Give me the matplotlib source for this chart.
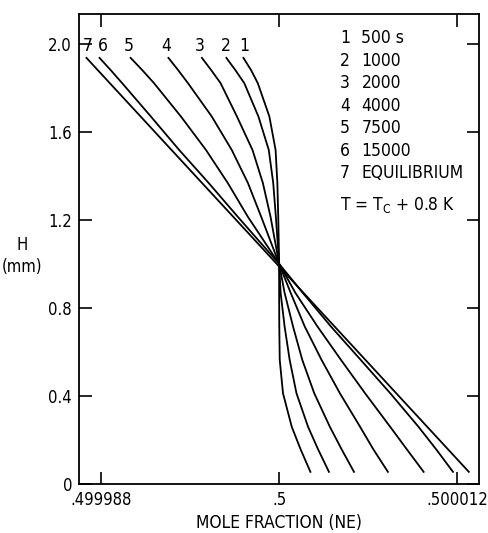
import numpy as np
import matplotlib
matplotlib.use("Agg")
import matplotlib.pyplot as plt

plt.rcParams['font.family'] = ['DejaVu Sans']
plt.rcParams['font.stretch'] = 'condensed'

h_levels = [1.936, 1.88, 1.821, 1.67, 1.518, 1.368, 1.214, 1.0,
            0.868, 0.715, 0.564, 0.412, 0.26, 0.157, 0.055]

# mole fraction minus 0.5, in units of 1e-6
curve1 = [-2.41, -1.89, -1.44, -0.66, -0.24, -0.12, -0.06, 0.0,
          0.0, 0.01, 0.04, 0.26, 0.85, 1.45, 2.11]
curve2 = [-3.56, -2.95, -2.35, -1.40, -0.70, -0.40, -0.22, 0.0,
          0.10, 0.37, 0.71, 1.17, 1.95, 2.63, 3.36]
curve3 = [-5.21, -4.58, -3.95, -2.85, -1.80, -1.10, -0.58, 0.0,
          0.37, 0.94, 1.56, 2.37, 3.42, 4.22, 5.05]
curve4 = [-7.47, -6.81, -6.15, -4.55, -3.20, -2.11, -1.21, 0.0,
          0.78, 1.73, 2.86, 4.10, 5.46, 6.36, 7.34]
curve5 = [-10.02, -9.23, -8.44, -6.63, -4.94, -3.47, -2.11, 0.0,
          1.10, 2.59, 4.17, 5.80, 7.49, 8.62, 9.75]
curve6 = [-12.12, -11.36, -10.59, -8.66, -6.75, -4.76, -2.79, 0.0,
          1.60, 3.50, 5.50, 7.50, 9.40, 10.60, 11.73]
# equilibrium profile is a straight line
h_equil = [1.936, 0.055]
curve7 = [-13.0, 12.8]

curve_nums = ['7', '6', '5', '4', '3', '2', '1']
num_x = [-12.9, -11.9, -10.14, -7.63, -5.39, -3.63, -2.34]
legend_nums = ['1', '2', '3', '4', '5', '6', '7']
legend_txt = ['500 s', '1000', '2000', '4000', '7500', '15000', 'EQUILIBRIUM']

fig = plt.figure(figsize=(4.88, 5.33), dpi=100)
ax = fig.add_axes([0.162, 0.092, 0.82, 0.882])

for c in [curve1, curve2, curve3, curve4, curve5, curve6]:
    ax.plot(0.5 + np.array(c) * 1e-6, h_levels, color='black', lw=1.3)
ax.plot(0.5 + np.array(curve7) * 1e-6, h_equil, color='black', lw=1.3)

ax.set_xlim(0.5 - 13.5e-6, 0.5 + 13.5e-6)
ax.set_ylim(0, 2.136)
ax.set_xticks([0.499988, 0.5, 0.500012])
ax.set_xticklabels(['.499988', '.5', '.500012'])
ax.set_yticks([0, 0.4, 0.8, 1.2, 1.6, 2.0])
ax.set_yticklabels(['0', '0.4', '0.8', '1.2', '1.6', '2.0'])
ax.tick_params(direction='in', length=9, width=1.2, top=True, right=True,
               labelsize=12, pad=5)
for s in ax.spines.values():
    s.set_linewidth(1.3)

ax.set_xlabel('MOLE FRACTION (NE)', fontsize=12.5, labelpad=4)
fig.text(0.045, 0.52, 'H\n(mm)', ha='center', va='center', fontsize=12,
         linespacing=1.3)

for n, xo in zip(curve_nums, num_x):
    ax.text(0.5 + xo * 1e-6, 1.99, n, ha='center', va='center', fontsize=12.5)

for i in range(len(legend_nums)):
    y = 2.025 - i * 0.1023
    ax.text(0.5 + 4.1e-6, y, legend_nums[i], ha='left', va='center', fontsize=12.5)
    ax.text(0.5 + 5.55e-6, y, legend_txt[i], ha='left', va='center', fontsize=12.5)
ax.text(0.5 + 4.1e-6, 1.268, r'T = T$_\mathregular{C}$ + 0.8 K', ha='left',
        va='center', fontsize=12.5)

fig.savefig('out.png', dpi=100)
